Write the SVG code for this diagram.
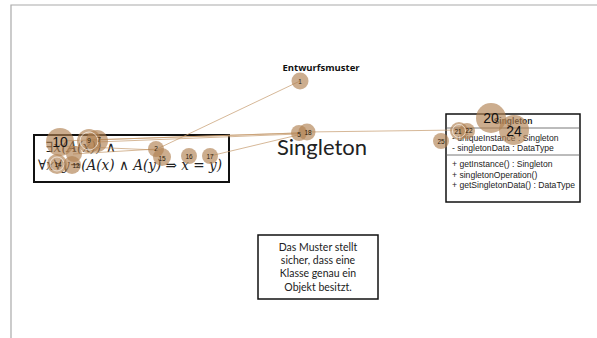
<svg xmlns="http://www.w3.org/2000/svg" width="597" height="338" viewBox="0 0 597 338">
<style>
.frame{stroke:#aaaaaa;stroke-width:1.2;fill:none}
.box{fill:none;stroke:#111;stroke-width:2}
.dot{fill:#b08152;fill-opacity:0.65}
.ring{fill:none;stroke:#fff;stroke-width:0.8;stroke-opacity:0.8}
.lbl{font-family:"Liberation Sans",Arial,sans-serif;font-size:6.5px;fill:#2a1a0a;text-anchor:middle;dominant-baseline:central}
.big{font-size:14px;fill:#111}
.con{stroke:#c49a6c;stroke-width:0.7;fill:none}
.math{font-family:"DejaVu Serif","Liberation Serif",serif;font-size:14px;font-style:italic;fill:#222}
.uml{font-family:"Liberation Sans",Arial,sans-serif;font-size:8.6px;fill:#222}
.body{font-family:"Lato","Open Sans",sans-serif;font-size:10.5px;fill:#222;text-anchor:middle}
</style>
<rect width="597" height="338" fill="#fff"/>
<path class="frame" d="M11,338 V5 H597"/>

<g id="title">
<text x="321" y="71" font-family="Open Sans, sans-serif" font-weight="bold" font-size="9.5" text-anchor="middle" fill="#111">Entwurfsmuster</text>
</g>
<g id="heading">
<text x="322" y="155" font-family="Lato, Open Sans, sans-serif" font-size="22" text-anchor="middle" fill="#222">Singleton</text>
</g>

<g id="formula">
<rect class="box" x="34" y="135" width="195" height="47"/>
<text class="math" x="46" y="152">∃x(A(x)) ∧</text>
<text class="math" x="38" y="170" textLength="184" lengthAdjust="spacingAndGlyphs">∀x∀y¬(A(x) ∧ A(y) ⇒ x = y)</text>
</g>

<g id="uml">
<rect x="446" y="114" width="134" height="88" fill="none" stroke="#111" stroke-width="1.5"/>
<text x="513" y="124" font-family="Liberation Sans, Arial, sans-serif" font-weight="bold" font-size="8.5" text-anchor="middle" fill="#222">Singleton</text>
<line x1="446" y1="128" x2="580" y2="128" stroke="#555" stroke-width="0.8"/>
<text class="uml" x="452" y="141">- uniqueInstance : Singleton</text>
<text class="uml" x="452" y="151">- singletonData : DataType</text>
<line x1="446" y1="155" x2="580" y2="155" stroke="#555" stroke-width="0.8"/>
<text class="uml" x="452" y="167">+ getInstance() : Singleton</text>
<text class="uml" x="452" y="178">+ singletonOperation()</text>
<text class="uml" x="452" y="188">+ getSingletonData() : DataType</text>
</g>

<g id="note">
<rect x="258" y="235" width="120" height="64" fill="none" stroke="#111" stroke-width="1.5"/>
<text class="body" x="318" y="251">Das Muster stellt</text>
<text class="body" x="318" y="264">sicher, dass eine</text>
<text class="body" x="318" y="277">Klasse genau ein</text>
<text class="body" x="318" y="291">Objekt besitzt.</text>
</g>

<g id="connectors">
<line class="con" x1="300" y1="81" x2="157" y2="149"/>
<line class="con" x1="298" y1="133" x2="60" y2="141"/>
<line class="con" x1="298" y1="133" x2="89" y2="140"/>
<line class="con" x1="298" y1="134" x2="97" y2="142"/>
<line class="con" x1="157" y1="149" x2="73" y2="154"/>
<line class="con" x1="157" y1="150" x2="62" y2="146"/>
<line class="con" x1="298" y1="135" x2="210" y2="156"/>
<line class="con" x1="307" y1="132" x2="459" y2="130"/>
</g>

<g id="markers">
<circle class="dot" cx="300" cy="81" r="8.5"/><text class="lbl" x="300" y="81">1</text>
<circle class="dot" cx="299" cy="133" r="8"/>
<circle class="dot" cx="307" cy="132" r="8.5"/><text class="lbl" x="299" y="134">5</text><text class="lbl" x="308" y="132">18</text>
<circle class="dot" cx="60" cy="142" r="14"/>
<circle class="dot" cx="97" cy="141" r="11"/>
<circle class="dot" cx="89" cy="141" r="12"/><circle class="ring" cx="89" cy="141" r="9"/>
<circle class="dot" cx="74" cy="154" r="8"/>
<circle class="dot" cx="72" cy="165" r="9"/>
<circle class="dot" cx="57" cy="164" r="10"/><circle class="ring" cx="57" cy="164" r="7"/>
<text class="lbl big" x="60" y="142">10</text>
<text class="lbl" x="89" y="140">9</text><text class="lbl" x="99" y="139">7</text>
<text class="lbl" x="58" y="164">14</text><text class="lbl" x="76" y="165">12</text>
<circle class="dot" cx="156" cy="149" r="8"/><text class="lbl" x="156" y="148">2</text>
<circle class="dot" cx="162" cy="157" r="9"/><text class="lbl" x="162" y="158">15</text>
<circle class="dot" cx="189" cy="156" r="8"/><text class="lbl" x="189" y="156">16</text>
<circle class="dot" cx="210" cy="156" r="8"/><text class="lbl" x="210" y="156">17</text>
<circle class="dot" cx="491" cy="118" r="15"/>
<circle class="dot" cx="514" cy="130" r="15"/>
<circle class="dot" cx="441" cy="141" r="8"/><text class="lbl" x="441" y="141">25</text>
<circle class="dot" cx="467" cy="131" r="8"/>
<circle class="dot" cx="459" cy="131" r="9"/><circle class="ring" cx="459" cy="131" r="6.5"/>
<text class="lbl" x="458" y="131">21</text><text class="lbl" x="469" y="130">22</text>
<text class="lbl big" x="491" y="118">20</text>
<text class="lbl big" x="514" y="131">24</text>
</g>
</svg>
